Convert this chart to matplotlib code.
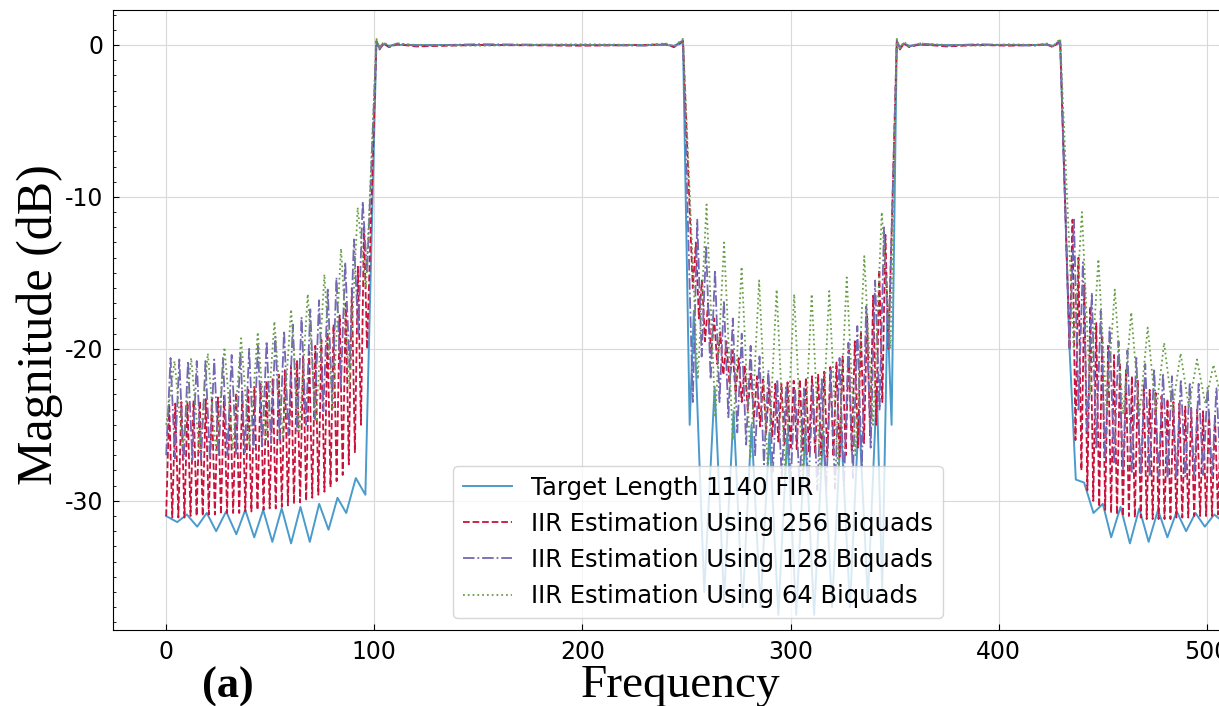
import numpy as np
import matplotlib
matplotlib.use('Agg')
import matplotlib.pyplot as plt
from matplotlib.ticker import MultipleLocator

plt.rcParams['axes.unicode_minus'] = False

labels = ['Target Length 1140 FIR', 'IIR Estimation Using 256 Biquads',
          'IIR Estimation Using 128 Biquads', 'IIR Estimation Using 64 Biquads']
colors = ['#4a9bcb', '#c8143c', '#7568b3', '#6a9f48']
styles = ['-', '--', '-.', ':']

# passband sample frequencies (shared)
pass1_f = [101.0, 102.5, 104.5, 107.0, 111.0, 120.0, 150.0, 200.0, 230.0, 240.0, 244.0, 246.5, 248.3]
pass2_f = [351.0, 352.5, 354.5, 357.0, 362.0, 375.0, 390.0, 405.0, 418.0, 423.0, 426.0, 428.0, 429.5]

# ---- target FIR (blue) ----
fir_s1_f = [0.0, 5.3, 9.9, 14.9, 19.5, 24.0, 28.8, 33.7, 38.0, 42.3, 46.6, 51.0, 55.5, 60.0,
            64.5, 69.0, 73.5, 78.0, 82.3, 86.5, 91.1, 95.7, 97.0]
fir_s1_db = [-31.0, -31.4, -30.9, -31.7, -30.8, -32.0, -30.7, -32.2, -30.6, -32.4, -30.6, -32.7,
             -30.5, -32.8, -30.4, -32.7, -30.2, -31.9, -29.8, -30.8, -28.5, -29.6, -22.0]
fir_p1 = [0.15, -0.1, 0.05, -0.05, 0.0, 0.0, 0.0, 0.0, 0.0, 0.0, -0.05, 0.05, 0.15]
fir_s2_f = [251.5, 253.5, 258.5, 263.5, 268.0, 272.6, 276.9, 281.2, 285.5, 289.8, 294.1, 298.4,
            302.7, 307.0, 311.3, 315.6, 319.9, 324.2, 328.5, 332.8, 337.1, 341.4, 344.0, 346.5, 348.5]
fir_s2_db = [-25.0, -17.5, -36.0, -22.5, -36.5, -24.1, -37.0, -25.0, -37.0, -25.5, -37.5, -25.6,
             -37.5, -25.6, -37.5, -25.5, -37.0, -25.0, -37.0, -24.1, -36.5, -22.5, -36.0, -17.5, -25.0]
fir_p2 = [0.15, -0.1, 0.05, -0.05, 0.0, 0.0, 0.0, 0.0, 0.0, 0.0, -0.05, 0.05, 0.15]
fir_s3_f = [434.0, 437.0, 441.0, 445.5, 450.0, 454.0, 458.5, 463.0, 467.5, 472.0, 476.5, 481.0,
            485.5, 490.0, 494.5, 499.0, 503.5, 508.0, 511.0]
fir_s3_db = [-20.0, -28.6, -28.8, -30.8, -30.2, -32.4, -30.4, -32.8, -30.5, -32.7, -30.6, -32.4,
             -30.7, -32.0, -30.8, -31.7, -30.9, -31.4, -31.0]

# ---- 256 biquads (red): ripple peaks / troughs per stopband ----
r256_s1_pk = [-23.6, -23.6, -23.5, -23.5, -23.4, -23.4, -23.3, -23.3, -23.2, -23.1,
              -23.0, -22.9, -22.8, -22.7, -22.5, -22.3, -22.1, -21.9, -21.7, -21.4,
              -21.1, -20.8, -20.5, -20.2, -19.8, -19.4, -18.9, -18.4, -17.8, -17.0,
              -16.0, -14.6, -12.0]
r256_s1_tr = [-31.0, -31.1, -31.1, -31.1, -31.0, -31.0, -31.0, -30.9, -30.9, -30.9,
              -30.8, -30.8, -30.8, -30.7, -30.7, -30.6, -30.6, -30.5, -30.5, -30.4,
              -30.3, -30.2, -30.1, -30.0, -29.8, -29.6, -29.4, -29.1, -28.7, -28.3,
              -27.6, -26.8, -25.0, -20.0]
r256_p1 = [0.25, -0.3, 0.1, -0.15, 0.05, -0.1, 0.0, -0.05, 0.0, 0.05, -0.15, 0.1, 0.25]
r256_s2_pk = [-13.0, -15.5, -17.0, -18.0, -18.9, -19.5, -20.1, -20.6, -21.1, -21.5,
              -21.8, -22.0, -22.2, -22.3, -22.3, -22.2, -22.1, -22.0, -21.9, -21.8,
              -21.7, -21.5, -21.2, -20.9, -20.5, -20.1, -19.5, -18.8, -17.8, -16.5,
              -14.8, -12.5]
r256_s2_tr = [-16.0, -18.0, -19.5, -20.3, -21.0, -21.7, -22.3, -22.9, -23.5, -24.1,
              -24.6, -25.1, -25.5, -25.8, -26.1, -26.3, -26.5, -26.6, -26.7, -26.8,
              -26.9, -27.0, -27.1, -27.1, -27.1, -27.0, -26.8, -26.5, -26.2, -25.7,
              -25.0, -23.5, -20.0]
r256_p2 = [0.25, -0.3, 0.1, -0.15, 0.05, -0.1, 0.0, -0.05, 0.0, 0.05, -0.15, 0.1, 0.25]
r256_s3_pk = [-11.5, -14.0, -15.8, -17.2, -18.3, -19.1, -19.8, -20.4, -20.9, -21.4,
              -21.8, -22.1, -22.4, -22.7, -22.9, -23.1, -23.3, -23.5, -23.6, -23.8,
              -23.9, -24.0, -24.1, -24.2, -24.3, -24.3, -24.4]
r256_s3_tr = [-20.0, -26.0, -28.0, -29.3, -30.0, -30.4, -30.6, -30.8, -30.9, -31.0,
              -31.0, -31.1, -31.1, -31.2, -31.2, -31.2, -31.2, -31.2, -31.1, -31.1,
              -31.1, -31.0, -31.0, -31.0, -31.0, -30.9, -30.9, -30.9]

# ---- 128 biquads (purple) ----
r128_s1_pk = [-20.6, -20.7, -20.8, -20.8, -20.8, -20.7, -20.6, -20.4, -20.2, -20.0,
              -19.8, -19.5, -19.2, -18.8, -18.4, -17.9, -17.4, -16.8, -16.1, -15.3,
              -14.3, -12.8, -10.3]
r128_s1_tr = [-27.0, -27.2, -27.3, -27.3, -27.3, -27.2, -27.1, -27.0, -26.9, -26.8,
              -26.6, -26.4, -26.2, -26.0, -25.7, -25.4, -25.0, -24.6, -24.1, -23.4,
              -22.5, -21.2, -19.0, -15.0]
r128_p1 = [0.3, -0.25, 0.15, -0.1, 0.1, -0.05, 0.05, 0.0, -0.05, 0.05, -0.1, 0.15, 0.3]
r128_s2_pk = [-11.5, -13.2, -14.8, -16.8, -18.0, -19.0, -19.8, -20.5, -21.4, -22.0,
              -22.4, -22.6, -22.6, -22.4, -22.0, -21.4, -20.6, -19.6, -18.5, -17.2,
              -15.5, -12.0]
r128_s2_tr = [-23.5, -20.5, -22.0, -23.5, -24.5, -25.5, -26.3, -27.0, -27.6, -28.1,
              -28.5, -28.8, -29.0, -29.2, -29.3, -29.3, -29.2, -29.0, -28.5, -27.8,
              -26.5, -24.0, -20.0]
r128_p2 = [0.3, -0.25, 0.15, -0.1, 0.1, -0.05, 0.05, 0.0, -0.05, 0.05, -0.1, 0.15, 0.3]
r128_s3_pk = [-11.5, -14.3, -16.3, -17.5, -18.6, -19.5, -20.1, -20.6, -21.0, -21.3,
              -21.6, -21.8, -22.0, -22.2, -22.3, -22.5, -22.6, -22.7]
r128_s3_tr = [-20.0, -24.0, -25.5, -26.5, -27.2, -27.6, -27.9, -28.1, -28.2, -28.3,
              -28.4, -28.4, -28.4, -28.4, -28.4, -28.3, -28.3, -28.3, -28.3]

# ---- 64 biquads (green) ----
r64_s1_pk = [-20.8, -20.6, -20.3, -19.9, -19.3, -18.9, -18.2, -17.4, -16.4, -15.1, -13.4, -10.7]
r64_s1_tr = [-25.0, -26.5, -26.8, -26.8, -26.6, -26.4, -26.1, -25.8, -25.4, -24.8, -24.0, -22.5, -16.0]
r64_p1 = [0.4, -0.2, 0.2, -0.1, 0.1, 0.0, -0.05, 0.05, 0.0, 0.1, -0.1, 0.2, 0.4]
r64_s2_pk = [-10.5, -13.0, -14.6, -15.5, -16.1, -16.4, -16.4, -16.2, -15.3, -13.9, -11.0]
r64_s2_tr = [-22.0, -24.5, -26.0, -27.2, -28.0, -28.5, -28.7, -28.5, -28.0, -27.0, -25.0, -20.0]
r64_p2 = [0.4, -0.2, 0.2, -0.1, 0.1, 0.0, -0.05, 0.05, 0.0, 0.1, -0.1, 0.2, 0.4]
r64_s3_pk = [-11.0, -14.1, -16.1, -17.6, -18.6, -19.6, -20.3, -20.7, -21.05, -21.3]
r64_s3_tr = [-20.0, -23.0, -24.0, -24.3, -24.3, -24.2, -24.0, -23.8, -23.6, -23.4, -23.3]


def ripple(f0, f1, peaks, troughs):
    # alternate trough/peak values, evenly spread over the stopband
    vals = []
    for i in range(len(troughs)):
        vals.append(troughs[i])
        if i < len(peaks):
            vals.append(peaks[i])
    return list(np.linspace(f0, f1, len(vals))), vals


def build(s1, p1, s2, p2, s3):
    f = list(s1[0]) + pass1_f + list(s2[0]) + pass2_f + list(s3[0])
    d = list(s1[1]) + p1 + list(s2[1]) + p2 + list(s3[1])
    return np.array(f), np.array(d)


curves = [
    build((fir_s1_f, fir_s1_db), fir_p1, (fir_s2_f, fir_s2_db), fir_p2, (fir_s3_f, fir_s3_db)),
    build(ripple(0.0, 96.5, r256_s1_pk, r256_s1_tr), r256_p1,
          ripple(253.0, 347.0, r256_s2_pk, r256_s2_tr), r256_p2,
          ripple(434.0, 511.0, r256_s3_pk, r256_s3_tr)),
    build(ripple(0.0, 96.5, r128_s1_pk, r128_s1_tr), r128_p1,
          ripple(253.0, 347.0, r128_s2_pk, r128_s2_tr), r128_p2,
          ripple(434.0, 511.0, r128_s3_pk, r128_s3_tr)),
    build(ripple(0.0, 96.0, r64_s1_pk, r64_s1_tr), r64_p1,
          ripple(255.4, 348.0, r64_s2_pk, r64_s2_tr), r64_p2,
          ripple(436.0, 515.0, r64_s3_pk, r64_s3_tr)),
]
widths = [1.4, 1.3, 1.3, 1.3]

fig = plt.figure(figsize=(12.19, 7.06), dpi=100)
ax = fig.add_axes([113/1219, 76/706, 1170/1219, 620/706])

for (f, d), lab, c, ls, lw in zip(curves, labels, colors, styles, widths):
    ax.plot(f, d, ls, color=c, lw=lw, label=lab)

ax.set_xlim(-25.55, 536.55)
ax.set_ylim(-38.5, 2.3)
ax.set_xticks([0, 100, 200, 300, 400, 500])
ax.set_yticks([0, -10, -20, -30])
ax.yaxis.set_minor_locator(MultipleLocator(1))
ax.grid(True, color='#d9d9d9', lw=0.8)
ax.set_axisbelow(True)
ax.tick_params(axis='both', which='major', direction='in', length=4, labelsize=17, pad=7)
ax.tick_params(axis='y', which='minor', direction='in', length=2)

ax.legend(loc='lower center', fontsize=17.5)

fig.text(40/1219, 1 - 325/706, 'Magnitude (dB)', rotation=90, ha='center', va='center',
         family='Liberation Serif', fontsize=36)
fig.text(681/1219, 9/706, 'Frequency', ha='center', va='baseline',
         family='Liberation Serif', fontsize=34)
fig.text(228/1219, 8/706, '(a)', ha='center', va='baseline',
         family='Liberation Serif', fontsize=32, fontweight='bold')

fig.savefig('out.png', dpi=100)
